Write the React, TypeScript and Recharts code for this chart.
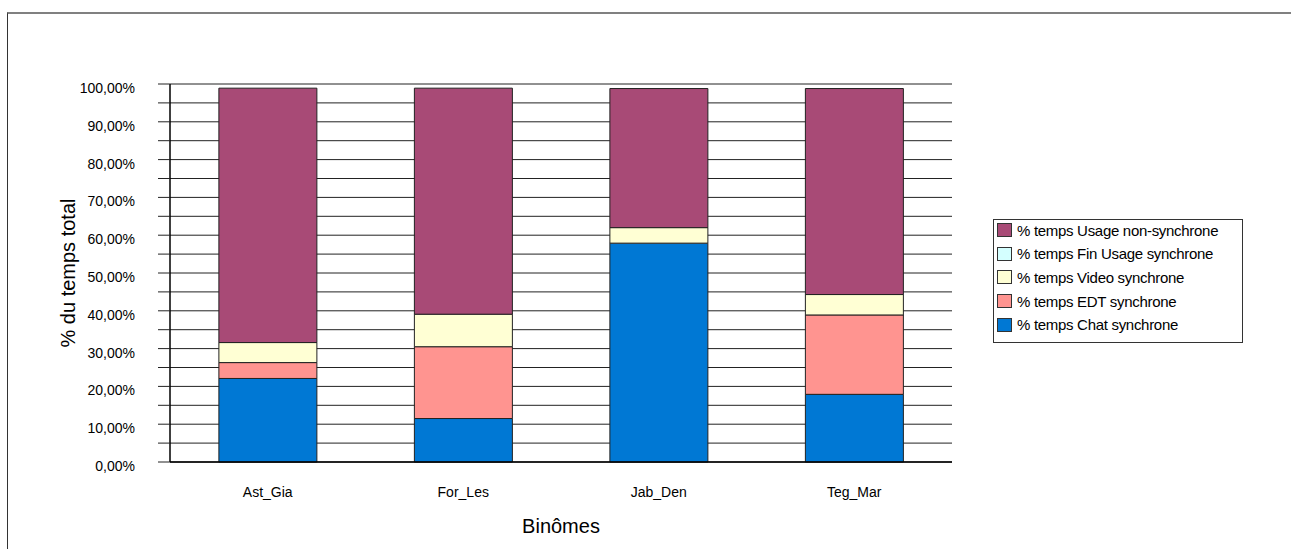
import React from 'react';
import { BarChart, Bar, XAxis, YAxis, CartesianGrid } from 'recharts';

const FONT = '"Liberation Sans", Arial, sans-serif';

const categories = ['Ast_Gia', 'For_Les', 'Jab_Den', 'Teg_Mar'];
const chatSync = [22.1, 11.5, 57.9, 17.9];
const edtSync = [4.2, 19.0, 0.0, 21.0];
const videoSync = [5.3, 8.6, 4.1, 5.4];
const finUsageSync = [0.0, 0.0, 0.0, 0.0];
const nonSync = [67.3, 59.8, 36.8, 54.5];

const yTicks = [0, 5, 10, 15, 20, 25, 30, 35, 40, 45, 50, 55, 60, 65, 70, 75, 80, 85, 90, 95, 100];
const yMinorTicks = [2.5, 7.5, 12.5, 17.5, 22.5, 27.5, 32.5, 37.5, 42.5, 47.5, 52.5, 57.5, 62.5, 67.5, 72.5, 77.5, 82.5, 87.5, 92.5, 97.5];
const boundaryTicks = [0, 1, 2, 3, 4];

const series = [
  { key: 'chat', name: '% temps Chat synchrone', values: chatSync, color: '#0078D4' },
  { key: 'edt', name: '% temps EDT synchrone', values: edtSync, color: '#FF9490' },
  { key: 'video', name: '% temps Video synchrone', values: videoSync, color: '#FFFFD4' },
  { key: 'fin', name: '% temps Fin Usage synchrone', values: finUsageSync, color: '#D4FFFF' },
  { key: 'nonsync', name: '% temps Usage non-synchrone', values: nonSync, color: '#A84A76' },
];

const data = categories.map((name, i) => {
  const row: Record<string, number | string> = { name, idx: i };
  series.forEach((s) => {
    row[s.key] = s.values[i];
  });
  return row;
});

const fmt = (v: number) => v.toFixed(2).replace('.', ',') + '%';

const YTick = (props: any) => {
  const { x, y, payload } = props;
  const v = Number(payload.value);
  if (Math.round(v) % 10 !== 0) return <g />;
  return (
    <text x={x} y={y + 4} dy="0.35em" textAnchor="end" fontSize={14} fill="#000" fontFamily={FONT}>
      {fmt(v)}
    </text>
  );
};

const YTitle = (props: any) => {
  const vb = props.viewBox || { x: 0, y: 0, width: 0, height: 0 };
  const cx = vb.x + 68;
  const cy = vb.y + vb.height / 2;
  return (
    <text
      x={cx}
      y={cy}
      transform={`rotate(-90 ${cx} ${cy})`}
      textAnchor="middle"
      dominantBaseline="central"
      fontSize={20}
      fill="#000"
      fontFamily={FONT}
    >
      % du temps total
    </text>
  );
};

export default function App() {
  const legendItems = [...series].reverse();
  return (
    <div
      style={{
        position: 'absolute',
        left: 0,
        top: 0,
        width: 1291,
        height: 549,
        overflow: 'hidden',
        background: '#fff',
        fontFamily: FONT,
      }}
    >
      <div
        style={{
          position: 'absolute',
          left: 7,
          top: 12,
          width: 1400,
          height: 700,
          borderTop: '2px solid #808080',
          borderLeft: '1px solid #333',
        }}
      />
      <div style={{ position: 'absolute', left: 0, top: 0 }}>
        <BarChart
          width={1291}
          height={549}
          data={data}
          margin={{ top: 84, right: 339, bottom: 0, left: 0 }}
          barCategoryGap="25%"
        >
          <CartesianGrid horizontal vertical={false} stroke="#222" strokeWidth={1} ticks={yTicks} />
          <XAxis
            xAxisId="bound"
            dataKey="idx"
            type="number"
            domain={[0, 4]}
            ticks={boundaryTicks}
            allowDataOverflow
            tick={false}
            tickSize={9}
            height={10}
            axisLine={{ stroke: '#000', strokeWidth: 1.5 }}
            tickLine={{ stroke: '#000' }}
          />
          <XAxis
            xAxisId="cat"
            dataKey="name"
            type="category"
            axisLine={false}
            tickLine={false}
            tickSize={0}
            tickMargin={15}
            height={77}
            interval={0}
            tick={{ fontSize: 14, fill: '#000', fontFamily: FONT }}
            label={{
              value: 'Binômes',
              position: 'insideBottom',
              offset: 16,
              style: { fontSize: 20, fill: '#000', fontFamily: FONT },
            }}
          />
          <YAxis
            type="number"
            domain={[0, 100]}
            ticks={yTicks}
            interval={0}
            width={170}
            tickSize={12}
            tickMargin={23}
            tick={<YTick />}
            axisLine={{ stroke: '#000', strokeWidth: 1.5 }}
            tickLine={{ stroke: '#222' }}
            label={<YTitle />}
          />
          <YAxis
            yAxisId="minor"
            type="number"
            domain={[0, 100]}
            ticks={yMinorTicks}
            interval={0}
            mirror
            width={10}
            tickSize={9}
            tick={false}
            axisLine={false}
            tickLine={{ stroke: '#222' }}
          />
          {series.map((s) => (
            <Bar
              key={s.key}
              xAxisId="cat"
              dataKey={s.key}
              name={s.name}
              stackId="a"
              fill={s.color}
              stroke="#222"
              strokeWidth={1}
              isAnimationActive={false}
            />
          ))}
        </BarChart>
      </div>
      <div
        style={{
          position: 'absolute',
          left: 993,
          top: 219,
          width: 250,
          height: 124,
          border: '1px solid #333',
          boxSizing: 'border-box',
        }}
      >
        {legendItems.map((s, i) => (
          <div
            key={s.key}
            style={{
              position: 'absolute',
              left: 3,
              top: 2 + i * 23.7,
              height: 16,
              display: 'flex',
              alignItems: 'center',
              whiteSpace: 'nowrap',
            }}
          >
            <div
              style={{
                width: 15,
                height: 14,
                background: s.color,
                border: '1px solid #333',
                boxSizing: 'border-box',
                marginRight: 5,
              }}
            />
            <span style={{ fontSize: 15, letterSpacing: -0.3, color: '#000' }}>{s.name}</span>
          </div>
        ))}
      </div>
    </div>
  );
}
